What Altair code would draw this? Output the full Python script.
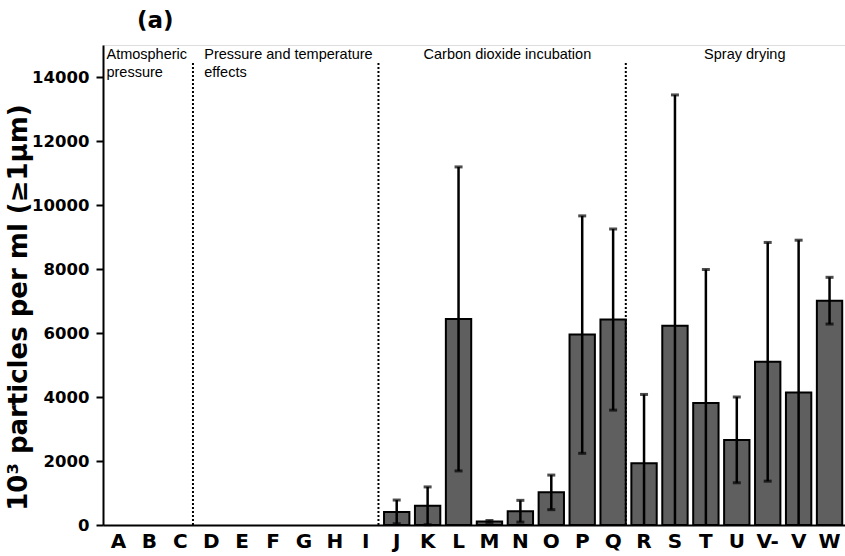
import altair as alt
import pandas as pd

categories = ["A", "B", "C", "D", "E", "F", "G", "H", "I", "J", "K", "L",
              "M", "N", "O", "P", "Q", "R", "S", "T", "U", "V-", "V", "W"]
means = [None] * 9 + [410, 600, 6440, 110, 430, 1020, 5950, 6420,
                      1930, 6230, 3810, 2660, 5100, 4140, 7010]
errors = [None] * 9 + [370, 590, 4750, 30, 340, 540, 3710, 2830,
                       2150, 7210, 4175, 1340, 3730, 4760, 730]

section_ends = ["C", "I", "Q"]
section_top = 14500
label_y = 14560
y_ticks = list(range(0, 15001, 1000))

df = pd.DataFrame({"cat": categories, "mean": means, "err": errors}).dropna()
df["hi"] = df["mean"] + df["err"]
df["lo"] = df["mean"] - df["err"]
df["lo_clip"] = df["lo"].clip(lower=0)
df_lo_caps = df[df["lo"] >= 0]

sep_df = pd.DataFrame({"cat": section_ends, "y0": [0] * 3, "y1": [section_top] * 3})

xscale = alt.Scale(domain=categories, paddingInner=0.18, paddingOuter=0.09)
yscale = alt.Scale(domain=[0, 15000], nice=False, zero=True)

x_axis = alt.Axis(title=None, labelAngle=0, ticks=False, labelFont="DejaVu Sans",
                  labelFontWeight="bold", labelFontSize=20, labelColor="black",
                  labelPadding=6, domainColor="black", domainWidth=2, grid=False)
y_axis = alt.Axis(title="10³ particles per ml (≥1μm)", values=y_ticks,
                  labelExpr="datum.value % 2000 === 0 ? datum.label : ''",
                  format="d", labelFont="DejaVu Sans", labelFontWeight="bold",
                  labelFontSize=16.5, labelColor="black", labelPadding=7,
                  tickColor="black", tickWidth=2,
                  tickSize={"condition": {"test": "datum.value % 2000 === 0", "value": 7}, "value": 3},
                  domainColor="black", domainWidth=2, grid=False,
                  titleFont="DejaVu Sans", titleFontWeight="bold", titleFontSize=26,
                  titleColor="black", titlePadding=0, titleY=262)

X = alt.X("cat:N", scale=xscale, sort=categories, axis=x_axis)

bars = alt.Chart(df).mark_bar(color="#5f5f5f", stroke="black", strokeWidth=2).encode(
    x=X, y=alt.Y("mean:Q", scale=yscale, axis=y_axis))

err_rule = alt.Chart(df).mark_rule(color="black", strokeWidth=2.5).encode(
    x=alt.X("cat:N", scale=xscale, sort=categories),
    y=alt.Y("lo_clip:Q", scale=yscale), y2="hi:Q")

cap_hi = alt.Chart(df).mark_tick(color="black", size=8, thickness=3, orient="horizontal").encode(
    x=alt.X("cat:N", scale=xscale, sort=categories), y=alt.Y("hi:Q", scale=yscale))
cap_lo = alt.Chart(df_lo_caps).mark_tick(color="black", size=8, thickness=3, orient="horizontal").encode(
    x=alt.X("cat:N", scale=xscale, sort=categories), y=alt.Y("lo:Q", scale=yscale))

seps = alt.Chart(sep_df).mark_rule(color="black", strokeWidth=2, strokeDash=[2, 2]).encode(
    x=alt.X("cat:N", scale=xscale, sort=categories, bandPosition=1),
    y=alt.Y("y0:Q", scale=yscale), y2="y1:Q")


def section_text(text, cat, dx, align):
    return alt.Chart(pd.DataFrame({"cat": [cat], "y": [label_y], "t": [text]})).mark_text(
        font="Liberation Sans", fontSize=14.5, color="black", align=align,
        baseline="alphabetic", dx=dx, lineBreak="\n", lineHeight=17.5).encode(
        x=alt.X("cat:N", scale=xscale, sort=categories),
        y=alt.Y("y:Q", scale=yscale), text="t:N")


texts = (section_text("Atmospheric\npressure", "A", -12, "left")
         + section_text("Pressure and temperature\neffects", "D", -7, "left")
         + section_text("Carbon dioxide incubation", "N", -13, "center")
         + section_text("Spray drying", "U", 8, "center"))

chart = alt.layer(bars, err_rule, cap_hi, cap_lo, seps, texts).properties(
    width=742, height=480,
    title=alt.Title("(a)", anchor="start", frame="group", dx=34, offset=12,
                    font="DejaVu Sans", fontSize=23, fontWeight="bold", color="black"),
    autosize=alt.AutoSizeParams(type="none"),
    padding={"left": 103, "top": 45, "right": 0, "bottom": 31},
).configure_view(stroke=None).configure(background="white")

chart.save("out.html", embed_options={"renderer": "svg", "actions": False})
